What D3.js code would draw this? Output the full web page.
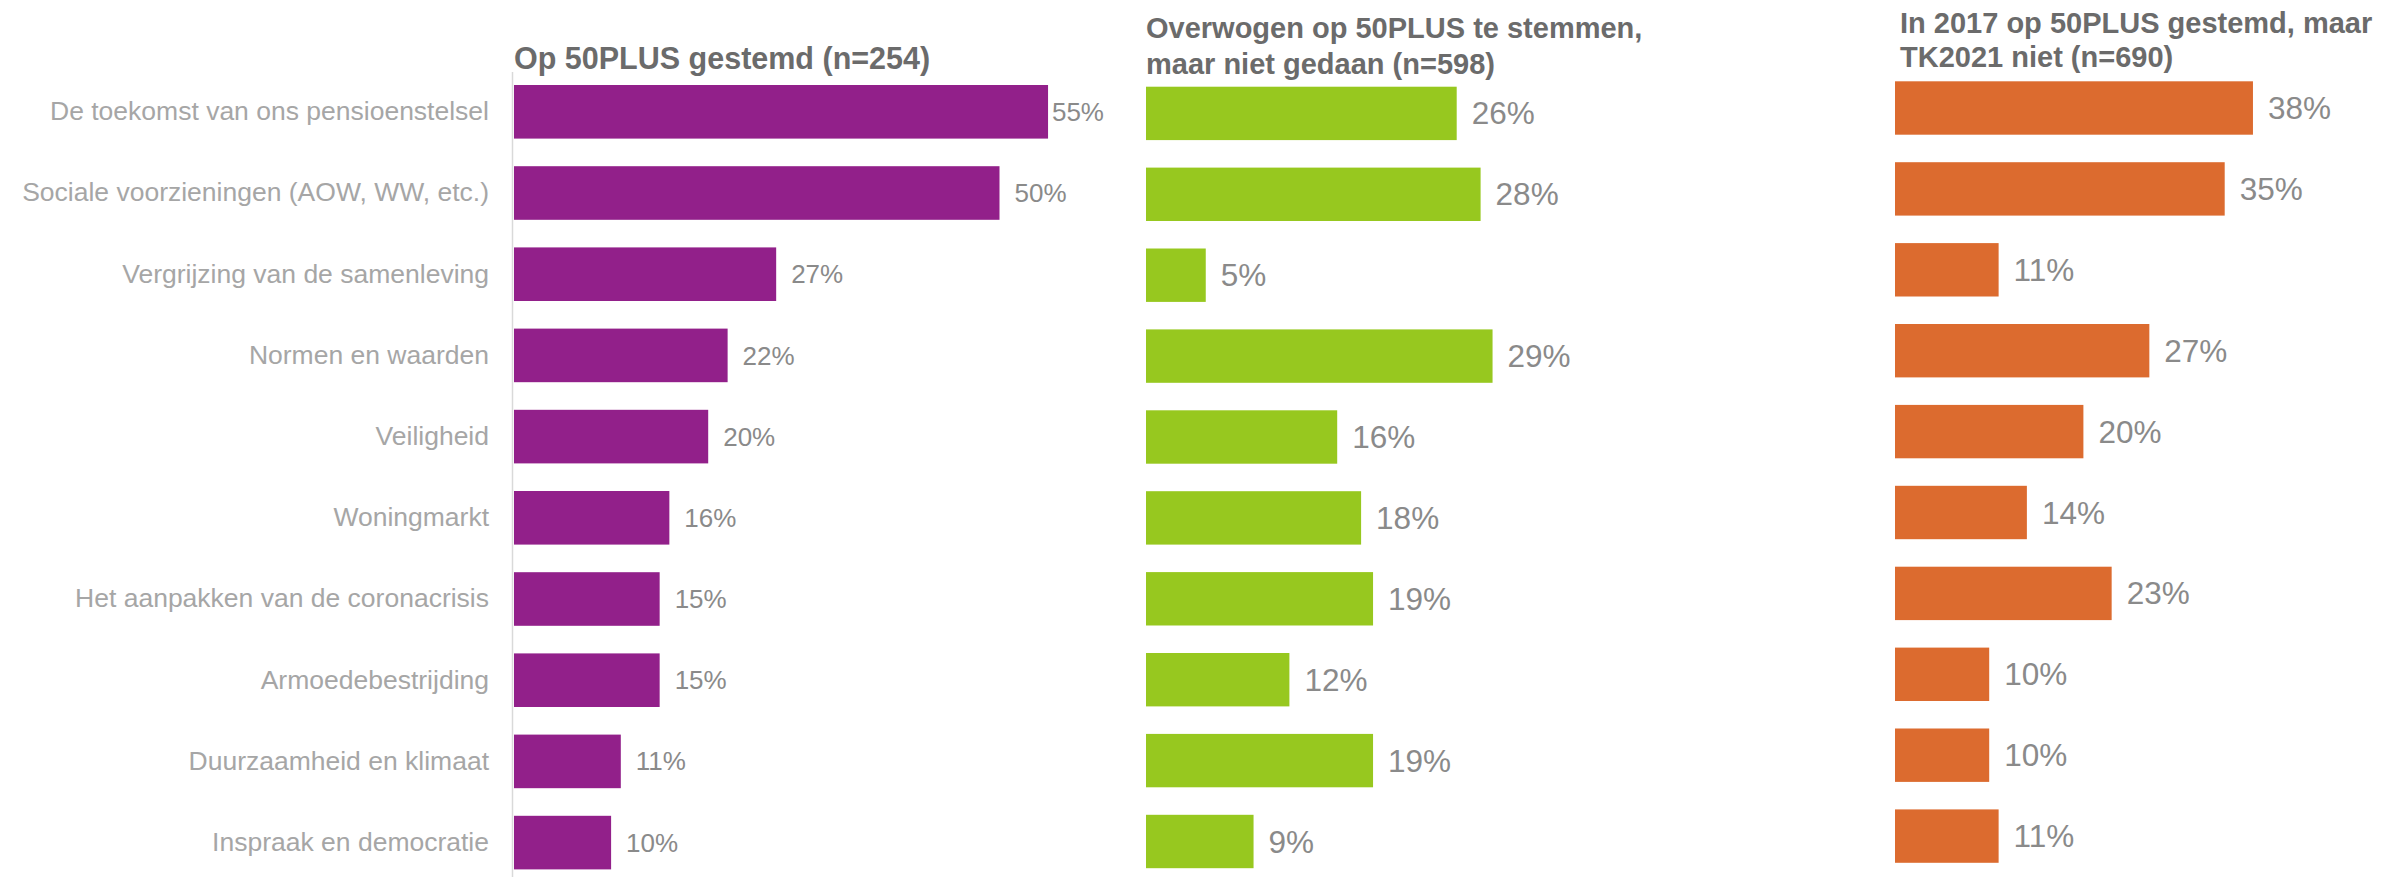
<!DOCTYPE html>
<html>
<head>
<meta charset="utf-8">
<script src="https://cdn.jsdelivr.net/npm/d3@7"></script>
<style>
  body { margin: 0; background: #fff; }
  svg { font-family: Arial, 'Liberation Sans', sans-serif; }
  .cat { fill: #a6a6a6; }
  .val { fill: #8a8a8a; }
  .title { fill: #6b6b6b; font-weight: bold; }
</style>
</head>
<body>
<div id="chart"></div>
<script>
const categories = [
  'De toekomst van ons pensioenstelsel',
  'Sociale voorzieningen (AOW, WW, etc.)',
  'Vergrijzing van de samenleving',
  'Normen en waarden',
  'Veiligheid',
  'Woningmarkt',
  'Het aanpakken van de coronacrisis',
  'Armoedebestrijding',
  'Duurzaamheid en klimaat',
  'Inspraak en democratie'
];
const gestemd = [55, 50, 27, 22, 20, 16, 15, 15, 11, 10];
const overwogen = [26, 28, 5, 29, 16, 18, 19, 12, 19, 9];
const nietTK2021 = [38, 35, 11, 27, 20, 14, 23, 10, 10, 11];
const titles = [
  ['Op 50PLUS gestemd (n=254)'],
  ['Overwogen op 50PLUS te stemmen,', 'maar niet gedaan (n=598)'],
  ['In 2017 op 50PLUS gestemd, maar', 'TK2021 niet (n=690)']
];

const width = 2384;
const height = 877;

const svg = d3
  .select('#chart')
  .append('svg')
  .attr('width', width)
  .attr('height', height);

// one panel per group, each with its own scales (as in the original slide)
const panels = [
  { values: gestemd, color: '#92208a', x0: 514, max: 60, pxPer: 9.71, y0: 57.4, y1: 897, fs: 26, titleFs: 30.5, titleY: [69], titleX: 514, labelMax: 1104 },
  { values: overwogen, color: '#97c81f', x0: 1146, max: 35, pxPer: 11.95, y0: 59.2, y1: 895.7, fs: 31.5, titleFs: 29, titleY: [38, 74], titleX: 1146, labelMax: 2384 },
  { values: nietTK2021, color: '#dc6b2f', x0: 1895, max: 40, pxPer: 9.42, y0: 53.8, y1: 890.3, fs: 31.5, titleFs: 29, titleY: [33, 67], titleX: 1900, labelMax: 2384 }
];

panels.forEach(function (p, i) {
  const xScale = d3.scaleLinear().domain([0, p.max]).range([p.x0, p.x0 + p.max * p.pxPer]);
  const yScale = d3.scaleBand().domain(categories).range([p.y0, p.y1]).padding(0.34);

  const g = svg.append('g').attr('class', 'panel-' + i);

  // titles
  g.selectAll('text.title')
    .data(titles[i])
    .join('text')
    .attr('class', 'title')
    .style('font-size', p.titleFs + 'px')
    .attr('x', p.titleX)
    .attr('y', (d, j) => p.titleY[j])
    .text((d) => d);

  // category labels only on first panel
  if (i === 0) {
    const yAxis = d3.axisLeft(yScale).tickSize(0).tickPadding(25);
    const ax = g.append('g').attr('transform', `translate(${p.x0}, 0)`).call(yAxis);
    ax.select('.domain').remove();
    ax.selectAll('text')
      .attr('class', 'cat')
      .style('font-size', '26.5px')
      .style('font-family', null)
      .attr('fill', null);

    g.append('line')
      .attr('x1', p.x0 - 1.5)
      .attr('x2', p.x0 - 1.5)
      .attr('y1', 72)
      .attr('y2', height)
      .attr('stroke', '#d9d9d9')
      .attr('stroke-width', 1.5);
  }

  const data = categories.map((c, k) => ({ cat: c, v: p.values[k] }));

  g.selectAll('rect')
    .data(data)
    .join('rect')
    .attr('x', xScale(0))
    .attr('y', (d) => yScale(d.cat))
    .attr('width', (d) => xScale(d.v) - xScale(0))
    .attr('height', yScale.bandwidth())
    .attr('fill', p.color);

  g.selectAll('text.val')
    .data(data)
    .join('text')
    .attr('class', 'val')
    .style('font-size', p.fs + 'px')
    .attr('y', (d) => yScale(d.cat) + yScale.bandwidth() / 2)
    .attr('dy', '0.35em')
    .text((d) => d.v + '%')
    .attr('x', function (d) {
      const w = this.getComputedTextLength();
      return Math.min(xScale(d.v) + 15, p.labelMax - w);
    });
});
</script>
</body>
</html>
